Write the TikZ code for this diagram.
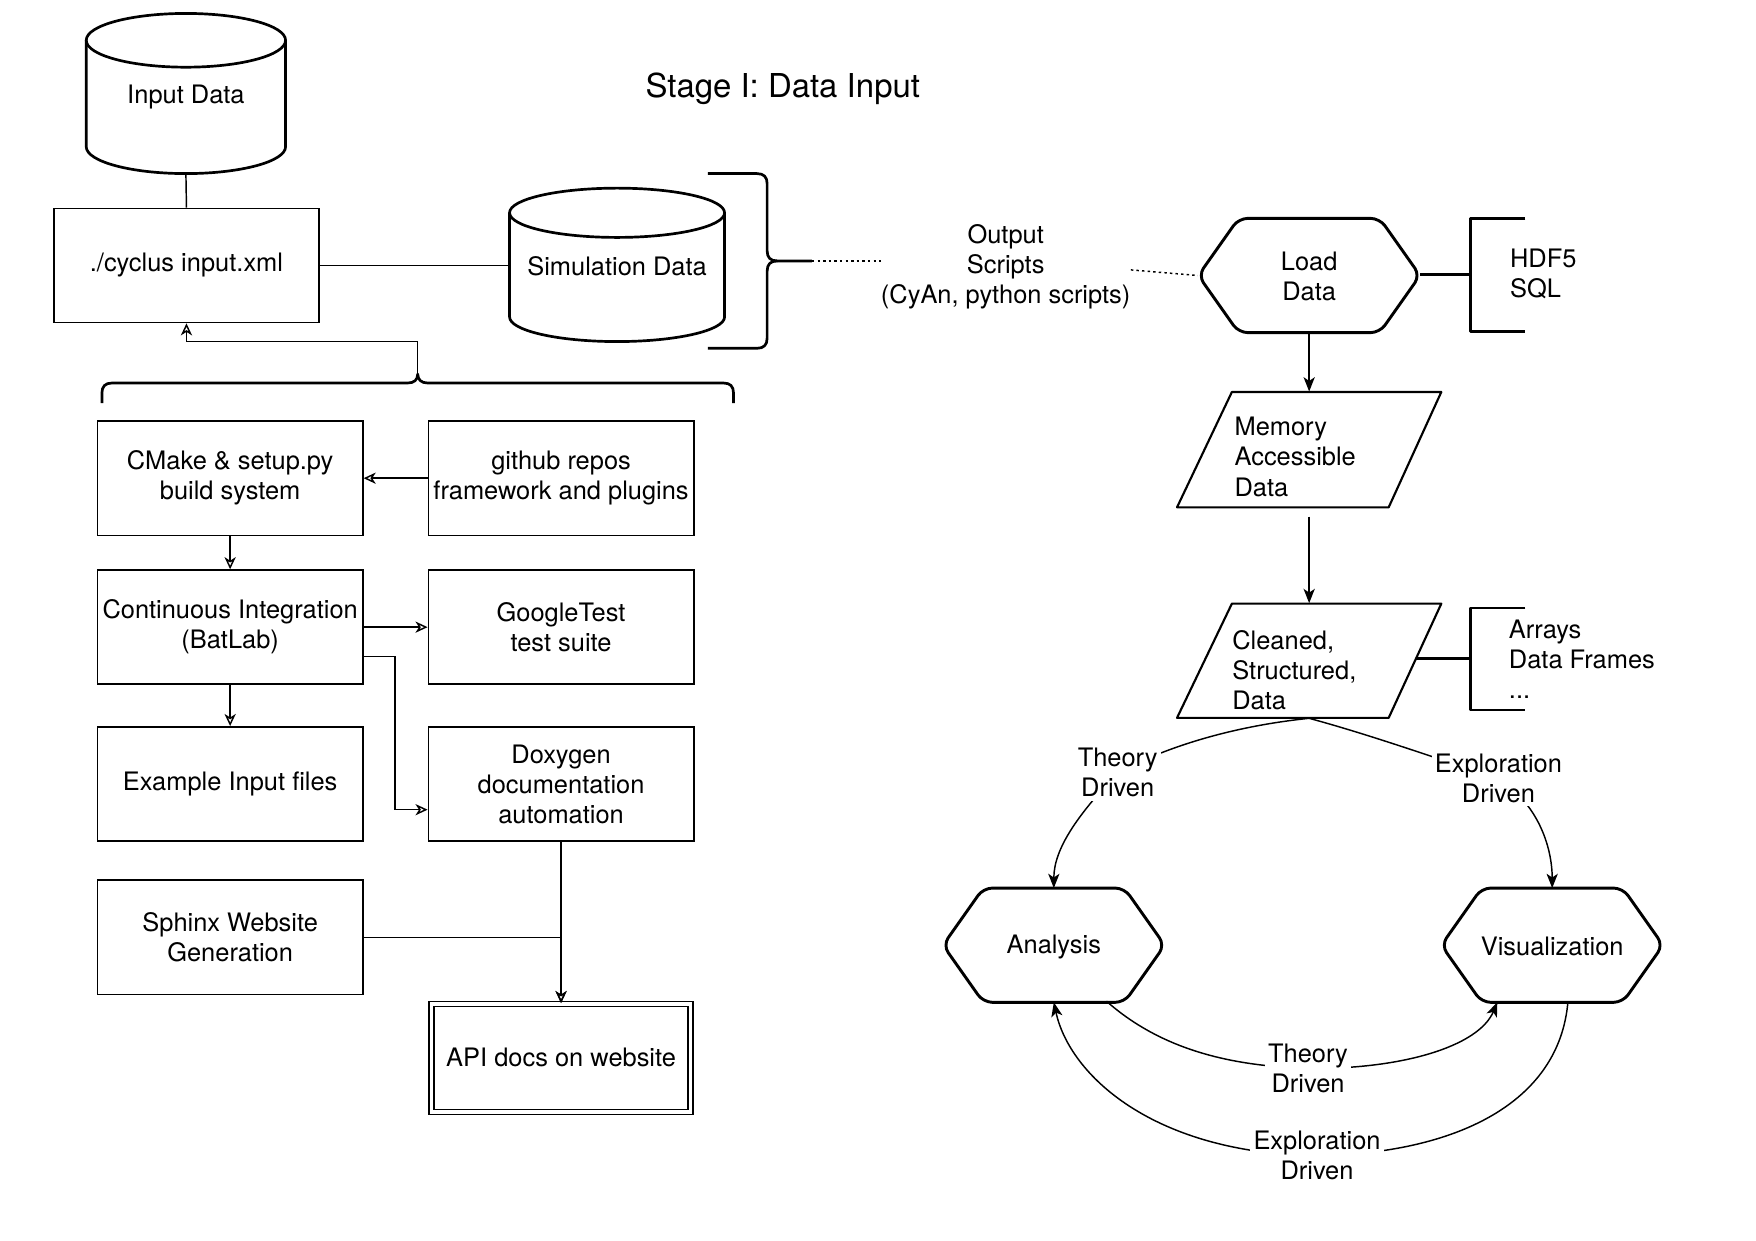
\documentclass[tikz,border=0pt]{standalone}
\usepackage{fontspec}
\setmainfont{TeX Gyre Heros}
\usetikzlibrary{arrows.meta,calc}
\begin{document}
\begin{tikzpicture}[x=0.5pt,y=-0.5pt,
  txt/.style={font=\fontsize{11.35pt}{13.4pt}\selectfont, align=center, inner sep=0pt},
  box/.style={txt, draw, line width=0.7pt, minimum width=118.5pt, minimum height=51pt},
  shp/.style={line width=1.2pt, line join=round},
  hexs/.style={shp, line width=1.3pt, rounded corners=4pt},
  ghost/.style={txt, minimum width=99pt, minimum height=51pt},
  conn/.style={line width=0.65pt},
  oarr/.style={conn, -{Stealth[open, length=5.4pt, width=5pt, inset=1.6pt]}},
  farr/.style={conn, -{Stealth[length=6.4pt, width=5pt, inset=1.7pt]}},
  lab/.style={txt, fill=white, inner sep=1.5pt},
  dots/.style={conn, dash pattern=on 1.1pt off 1.4pt}]
\useasboundingbox (0,0) rectangle (1568,1108);

% ---------- title
\node[txt, font=\fontsize{14.7pt}{17pt}\selectfont] (title) at (699,79) {Stage I: Data Input};

% ---------- cylinders
\draw[shp] (77,36) -- (77,131) .. controls (77,144.2) and (116.9,155) .. (166,155)
  .. controls (215.1,155) and (255,144.2) .. (255,131) -- (255,36);
\draw[shp] (166,36) ellipse [x radius=44.5pt, y radius=12pt];
\node[txt, minimum width=89pt, minimum height=71.5pt] (indata) at (166,87) {Input Data};

\draw[shp] (455,190) -- (455,283) .. controls (455,295.1) and (498,305) .. (551,305)
  .. controls (604,305) and (647,295.1) .. (647,283) -- (647,190);
\draw[shp] (551,190) ellipse [x radius=48pt, y radius=11pt];
\node[txt, minimum width=96pt, minimum height=68.5pt] (sim) at (551,238) {Simulation Data};

% ---------- boxes
\node[box] (cyc) at (166.5,237) {./cyclus input.xml};
\node[box] (cmake) at (205.5,427) {CMake \& setup.py\\build system};
\node[box] (gh) at (501,427) {github repos\\framework and plugins};
\node[box] (ci) at (205.5,560) {Continuous Integration\\(BatLab)};
\node[box] (gt) at (501,560) {GoogleTest\\test suite};
\node[box] (ex) at (205.5,700) {Example Input files};
\node[box] (doxy) at (501,700) {Doxygen\\documentation\\automation};
\node[box] (sph) at (205.5,837) {Sphinx Website\\Generation};
\node[box, double, double distance=1.6pt, line width=0.6pt, minimum width=115.6pt, minimum height=48.2pt] (api) at (501,944.5) {API docs on website};

% ---------- braces
\draw[shp] (91,360) -- (91,351) .. controls (91,345) and (94,342) .. (100,342) -- (364,342)
  .. controls (370,342) and (373,339) .. (373,334)
  .. controls (373,339) and (376,342) .. (382,342) -- (646,342)
  .. controls (652,342) and (655,345) .. (655,351) -- (655,360);
\coordinate (lbt) at (373,334);
\draw[shp] (632,155) -- (676,155) .. controls (682,155) and (685,158) .. (685,164) -- (685,224)
  .. controls (685,230) and (688,233) .. (694,233) -- (725,233);
\draw[shp] (694,233) .. controls (688,233) and (685,236) .. (685,242) -- (685,302)
  .. controls (685,308) and (682,311) .. (676,311) -- (632,311);
\coordinate (rbt) at (725,233);

% ---------- output scripts
\node[txt] (out) at (898,238) {Output\\Scripts\\(CyAn, python scripts)};

% ---------- right side shapes
\draw[hexs] (1070,246) -- (1106,195) -- (1232,195) -- (1268,246) -- (1232,297) -- (1106,297) -- cycle;
\node[ghost] (load) at (1169,247) {Load\\Data};
\draw[hexs] (842,844) -- (878,793) -- (1004,793) -- (1040,844) -- (1004,895) -- (878,895) -- cycle;
\node[ghost] (ana) at (941,846) {Analysis};
\draw[hexs] (1287,844) -- (1323,793) -- (1449,793) -- (1485,844) -- (1449,895) -- (1323,895) -- cycle;
\node[ghost] (vis) at (1386,845) {Visualization};

\draw[shp, line width=0.95pt] (1051,453) -- (1100,350) -- (1287,350) -- (1240,453) -- cycle;
\node[txt, minimum width=118pt, minimum height=51.5pt] (mem) at (1169,401.5) {};
\node[txt, anchor=west, align=left] (memtxt) at (1102,408) {Memory\\Accessible\\Data};

\draw[shp, line width=0.95pt] (1051,641) -- (1100,539) -- (1287,539) -- (1240,641) -- cycle;
\node[txt, minimum width=118pt, minimum height=51pt] (clean) at (1169,590) {};
\node[txt, anchor=west, align=left] (cleantxt) at (1100,598) {Cleaned,\\Structured,\\Data};

% brackets
\draw[shp] (1362,195) -- (1313,195) -- (1313,296) -- (1362,296);
\coordinate (bk1) at (1313,245);
\node[txt, anchor=west, align=left] (hdf) at (1348,245) {HDF5\\SQL};
\draw[shp] (1362,543) -- (1313,543) -- (1313,634) -- (1362,634);
\coordinate (bk2) at (1313,588);
\coordinate (cleanR) at (1264,588);
\node[txt, anchor=west, align=left] (arr) at (1347,589) {Arrays\\Data Frames\\...};

% ---------- connectors left
\draw[conn] (indata.south |- 0,155) -- (cyc.north);
\draw[conn] (cyc.east) -- (sim.west |- cyc.east);
\draw[oarr] (lbt) -- ++(0,-29) -| (cyc.south);
\draw[oarr] (gh.west) -- (cmake.east);
\draw[oarr] (cmake.south) -- (ci.north);
\draw[oarr] (ci.east) -- (gt.west);
\draw[oarr] ([yshift=-13pt]ci.east) -- ++(14pt,0) |- ([yshift=-11.5pt]doxy.west);
\draw[oarr] (ci.south) -- (ex.north);
\draw[oarr] (doxy.south) -- (api.north);
\draw[oarr] (sph.east) -| (api.north);

% ---------- connectors right
\draw[dots] (rbt) -- (out.west |- rbt);
\draw[dots] ([yshift=-1.5pt]out.east) -- (load.west |- 0,246);
\draw[shp] (load.east |- bk1) -- (bk1);
\draw[shp] (cleanR) -- (bk2);
\draw[farr] (load.south |- 0,297) -- (mem.north);
\draw[farr, shorten <=4pt] (mem.south) -- (clean.north);

\coordinate (anaBR) at (988,894);
\coordinate (visBL) at (1337,895);
\coordinate (visB) at (1400,895);
\coordinate (anaT) at (941,793);
\coordinate (anaB) at (941,895);
\coordinate (visT) at (1386,793);

\draw[farr] (clean.south) .. controls (1105,648) and (1045,665) .. (998,690)
  node[lab] (td1) {Theory\\Driven}
  .. controls (962,728) and (941,758) .. (anaT);
\draw[farr] (clean.south) .. controls (1230,658) and (1290,680) .. (1338,695)
  node[lab] (ed1) {Exploration\\Driven}
  .. controls (1376,720) and (1386,760) .. (visT);
\draw[farr] (anaBR) .. controls (1040,940) and (1105,952) .. (1168,954)
  node[lab] (td2) {Theory\\Driven}
  .. controls (1250,955) and (1320,935) .. (visBL);
\draw[farr] (visB) .. controls (1392,985) and (1300,1030) .. (1176,1032)
  node[lab] (ed2) {Exploration\\Driven}
  .. controls (1030,1030) and (955,960) .. (anaB);
\end{tikzpicture}
\end{document}
